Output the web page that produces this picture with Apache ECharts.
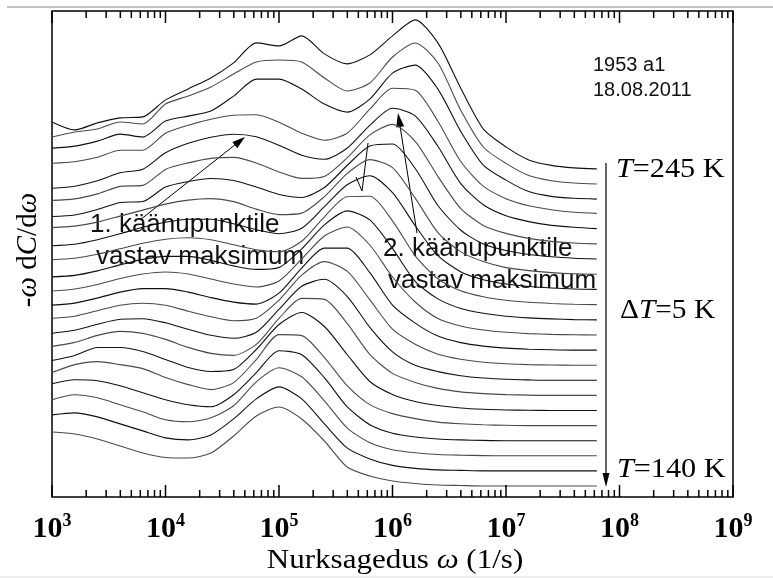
<!DOCTYPE html>
<html>
<head>
<meta charset="utf-8">
<script src="https://cdn.jsdelivr.net/npm/echarts@6.0.0/dist/echarts.min.js"></script>
<style>
  html, body { margin: 0; padding: 0; background: #fff; }
  #chart { width: 773px; height: 578px; }
</style>
</head>
<body>
<div id="chart"></div>
<script>
// log10 of angular frequency for each sample
const logOmega = [3.0, 3.2, 3.4, 3.6, 3.8, 4.0, 4.2, 4.4, 4.6, 4.8, 5.0, 5.2, 5.4, 5.6, 5.8, 6.0, 6.2, 6.4, 6.6, 6.8, 7.0, 7.2, 7.4, 7.6, 7.8];

// temperatures (K), bottom curve first
const temps = [140, 145, 150, 155, 160, 165, 170, 175, 180, 185, 190, 195, 200, 205, 210, 215, 220, 225, 230, 235, 240, 245];

// -w dC/dw (arb. units, each curve above its own baseline)
const dC140 = [54, 52, 47, 40, 33, 28.5, 28, 33, 50, 70, 79, 67, 45, 19, 10, 5, 2.5, 1, 0.5, 0, 0, 0, 0, 0, 0];
const dC145 = [56, 58, 54, 47, 40, 33, 31, 36, 52, 72, 84, 72, 47, 23, 12, 5.5, 2.5, 1, 0.5, 0, 0, 0, 0, 0, 0];
const dC150 = [56, 61, 58, 51, 44, 36, 34, 38, 50, 74, 88, 79, 55, 28, 13, 6, 3, 1.3, 0.6, 0.2, 0, 0, 0, 0, 0];
const dC155 = [57, 61, 60, 55, 48, 41, 36, 34, 46, 68, 90, 86, 63, 34, 16, 7.5, 3.7, 1.7, 0.8, 0.3, 0, 0, 0, 0, 0];
const dC160 = [53, 61, 64, 61, 57, 48, 41, 36, 43, 66, 91, 90, 68, 40, 21, 12, 7, 3.5, 1.8, 0.8, 0.3, 0, 0, 0, 0];
const dC165 = [50, 55, 63, 63, 59, 51, 43, 39, 41, 61, 86, 98, 84, 56, 29, 16, 9, 5, 2.5, 1.2, 0.5, 0.2, 0, 0, 0];
const dC170 = [49, 53, 60, 64, 62, 56, 48, 42, 40, 51, 77, 97, 96, 72, 41, 22, 13, 7, 3.5, 1.8, 0.8, 0.3, 0, 0, 0];
const dC175 = [47, 50, 56, 61, 61.5, 57.5, 51, 45, 42, 48, 71, 94, 101, 84, 53, 28.5, 15, 8.7, 4.6, 2.3, 1, 0.4, 0, 0, 0];
const dC180 = [47, 49, 54.5, 60, 62, 60, 54, 48.5, 44.5, 47, 65, 90, 103.6, 94, 65.5, 36, 21, 11, 6, 3, 1.5, 0.6, 0.2, 0, 0];
const dC185 = [45, 47, 52, 58, 61.5, 61.5, 58, 52.5, 48, 46, 57, 82, 102, 102, 77.5, 45, 27, 14, 7.5, 4, 2, 0.9, 0.3, 0, 0];
const dC190 = [44, 46, 50.5, 56.5, 61, 63, 61, 56, 51, 48, 54, 76, 99, 108, 90, 58, 33, 16.5, 9, 5, 2.7, 1.4, 0.6, 0.2, 0];
const dC195 = [43, 44.5, 49, 55, 60.5, 63.5, 63.5, 59.5, 54, 50.5, 52.5, 71, 95, 109, 100, 71.5, 38.5, 21, 11.5, 6.6, 3.6, 2, 1, 0.3, 0];
const dC200 = [45, 46.5, 50.5, 56, 61.5, 65.5, 67, 65, 60, 55, 53, 63.5, 88, 108, 108.5, 84, 49, 26, 14, 8, 4.5, 2.5, 1.3, 0.5, 0.2];
const dC205 = [44, 45.5, 50, 56, 62.5, 67.5, 70.5, 70.5, 66, 60, 56, 61.5, 83, 105, 114, 97, 64, 34, 18, 10, 5.7, 3.2, 1.7, 0.7, 0.3];
const dC210 = [47, 48.5, 52.5, 58.5, 64.5, 70.5, 74.5, 76, 73, 65.5, 60, 61.5, 78, 101, 115, 107, 76.5, 42, 23, 13, 7, 4, 2, 0.8, 0.3];
const dC215 = [43, 44.5, 50, 57, 58, 72.5, 78, 81, 79, 72.5, 65, 62, 72, 94, 113.5, 115.5, 91, 54, 29.5, 15.5, 9, 5, 2.7, 1.3, 0.5];
const dC220 = [44, 45.5, 50.5, 58, 59, 75, 81.5, 86, 87, 81.5, 72.5, 66, 68, 86.5, 109.5, 120, 103, 68, 36, 19, 11, 6, 3, 1.4, 0.5];
const dC225 = [41, 43, 48.5, 56.5, 60, 76.5, 86, 92, 95, 92.5, 84, 74, 70, 81, 104, 121, 113.5, 83, 46, 24.5, 13.5, 7.7, 3.9, 2, 0.7];
const dC230 = [51, 52.5, 57, 64, 64, 81, 89, 95, 99, 99.5, 92, 81, 74, 81, 105, 126, 124, 93, 53, 28, 15.5, 8.4, 4.5, 2, 0.8];
const dC235 = [51, 53, 58, 65, 62, 78, 83, 88, 103, 120, 120, 110, 95, 87, 100, 126, 134, 110, 68, 34, 19, 7.5, 2.7, 0.8, 0];
const dC240 = [47, 52, 55, 62, 60, 80, 88, 97, 110, 122, 124, 122, 106, 93, 101, 127, 141, 121, 74, 37, 20.6, 8.5, 3.3, 1, 0];
const dC245 = [47, 39, 46, 51, 52, 69, 80, 91, 106, 126, 123, 133, 115, 105, 114, 133, 149, 126, 81, 40, 22, 9, 3.5, 1, 0];

const curves = [dC140, dC145, dC150, dC155, dC160, dC165, dC170, dC175, dC180, dC185, dC190,
                dC195, dC200, dC205, dC210, dC215, dC220, dC225, dC230, dC235, dC240, dC245];

// waterfall offset between neighbouring curves
const BASE = 11;
const STEP = 15.1;

// axis ticks (decade starts + minor multipliers)
const decades = [1e3, 1e4, 1e5, 1e6, 1e7, 1e8];
const minorSteps = [2, 3, 4, 5, 6, 7, 8, 9];

const chart = echarts.init(document.getElementById('chart'), null, { renderer: 'canvas' });

const serif = 'Liberation Serif';
const sans = 'Liberation Sans';

const curveSeries = curves.map((h, i) => ({
    type: 'line',
    name: 'T=' + temps[i] + ' K',
    symbol: 'none',
    smooth: 0.25,
    silent: true,
    lineStyle: { width: 1.1, color: i % 2 ? '#111' : '#4a4a4a' },
    data: logOmega.map((lw, k) => [Math.pow(10, lw), h[k] + BASE + STEP * i])
}));

const tickData = [];
decades.forEach(d => {
    tickData.push([d, 1]);
    minorSteps.forEach(m => tickData.push([d * m, 0]));
});
tickData.push([1e9, 1]);

const tickSeries = {
    type: 'custom',
    silent: true,
    clip: false,
    z: 5,
    data: tickData,
    encode: { x: 0, y: 1 },
    renderItem: (params, api) => {
        const cs = params.coordSys;
        const x = api.coord([api.value(0), 0])[0];
        const len = api.value(1) ? 12 : 7;
        const yb = cs.y + cs.height;
        return {
            type: 'group',
            children: [
                { type: 'line', shape: { x1: x, y1: yb, x2: x, y2: yb - len }, style: { stroke: '#000', lineWidth: 1.5 } },
                { type: 'line', shape: { x1: x, y1: cs.y, x2: x, y2: cs.y + len }, style: { stroke: '#000', lineWidth: 1.5 } }
            ]
        };
    }
};

// arrowhead helper: tip point + direction it points to
function arrowHead(tx, ty, fromX, fromY, len, half) {
    const dx = tx - fromX, dy = ty - fromY;
    const d = Math.sqrt(dx * dx + dy * dy);
    const ux = dx / d, uy = dy / d;
    const bx = tx - ux * len, by = ty - uy * len;
    return {
        type: 'polygon',
        shape: { points: [[tx, ty], [bx - uy * half, by + ux * half], [bx + uy * half, by - ux * half]] },
        style: { fill: '#000' }
    };
}

const italic = { fontFamily: serif, fontStyle: 'italic', fontSize: 28, fill: '#000' };
const upright = { fontFamily: serif, fontSize: 28, fill: '#000' };

const graphics = [
    // page rules
    { type: 'line', shape: { x1: 7, y1: 7, x2: 773, y2: 7 }, style: { stroke: '#8a8a8a', lineWidth: 1 } },
    { type: 'line', shape: { x1: 0, y1: 577, x2: 773, y2: 577 }, style: { stroke: '#dcdcdc', lineWidth: 1 } },
    // y title
    {
        type: 'text', x: 28, y: 250, rotation: Math.PI / 2,
        style: {
            text: '{u|-}{i|ω}{u| d}{i|C}{u|/d}{i|ω}',
            align: 'center', verticalAlign: 'middle',
            rich: { u: Object.assign({}, upright, { fontSize: 29 }), i: Object.assign({}, italic, { fontSize: 29 }) }
        }
    },
    // x title
    {
        type: 'text', x: 395, y: 561, scaleX: 1.15,
        style: {
            text: '{u|Nurksagedus }{i|ω}{u| (1/s)}',
            align: 'center', verticalAlign: 'middle',
            rich: { u: Object.assign({}, upright, { fontSize: 27 }), i: Object.assign({}, italic, { fontSize: 27 }) }
        }
    },
    // sample id
    { type: 'text', x: 593, y: 65, style: { text: '1953 a1', fontFamily: sans, fontSize: 20, fill: '#111', align: 'left', verticalAlign: 'middle' } },
    { type: 'text', x: 593, y: 90, style: { text: '18.08.2011', fontFamily: sans, fontSize: 20, fill: '#111', align: 'left', verticalAlign: 'middle' } },
    // temperature labels
    { type: 'text', x: 616, y: 170, scaleX: 1.08, style: { text: '{i|T}{u|=245 K}', align: 'left', verticalAlign: 'middle', rich: { u: upright, i: italic } } },
    { type: 'text', x: 620, y: 311, scaleX: 1.05, style: { text: '{u|Δ}{i|T}{u|=5 K}', align: 'left', verticalAlign: 'middle', rich: { u: upright, i: italic } } },
    { type: 'text', x: 617, y: 470, scaleX: 1.08, style: { text: '{i|T}{u|=140 K}', align: 'left', verticalAlign: 'middle', rich: { u: upright, i: italic } } },
    // vertical temperature arrow
    { type: 'line', shape: { x1: 606, y1: 163, x2: 606, y2: 476 }, style: { stroke: '#000', lineWidth: 1.2 } },
    arrowHead(606, 487, 606, 163, 14, 3.5),
    // annotation 1
    { type: 'text', x: 90, y: 225, style: { text: '1. käänupunktile', fontFamily: sans, fontSize: 26, fill: '#111', align: 'left', verticalAlign: 'middle' } },
    { type: 'text', x: 96, y: 257, style: { text: 'vastav maksimum', fontFamily: sans, fontSize: 26, fill: '#111', align: 'left', verticalAlign: 'middle' } },
    { type: 'line', shape: { x1: 140, y1: 220, x2: 236, y2: 144 }, style: { stroke: '#000', lineWidth: 1 } },
    arrowHead(245, 137, 140, 220, 13, 4),
    // annotation 2
    { type: 'text', x: 383, y: 249, style: { text: '2. käänupunktile', fontFamily: sans, fontSize: 26, fill: '#111', align: 'left', verticalAlign: 'middle' } },
    { type: 'text', x: 388, y: 281, style: { text: 'vastav maksimum', fontFamily: sans, fontSize: 26, fill: '#111', align: 'left', verticalAlign: 'middle' } },
    { type: 'line', shape: { x1: 417, y1: 233, x2: 400, y2: 126 }, style: { stroke: '#000', lineWidth: 1 } },
    arrowHead(398, 113, 417, 233, 14, 4),
    { type: 'polyline', shape: { points: [[356, 177], [362, 191], [368, 143]] }, style: { stroke: '#000', lineWidth: 1, fill: null } }
];

chart.setOption({
    animation: false,
    backgroundColor: '#fff',
    grid: { left: 52, right: 40, top: 11, bottom: 81, show: true, borderColor: '#000', borderWidth: 1.5, backgroundColor: 'transparent' },
    xAxis: {
        type: 'log', logBase: 10, min: 1e3, max: 1e9, splitNumber: 6,
        axisLine: { show: false },
        axisTick: { show: false },
        splitLine: { show: false },
        axisLabel: {
            margin: 15,
            formatter: v => '{b|10}{e|' + Math.round(Math.log10(v)) + '}',
            rich: {
                b: { fontFamily: serif, fontWeight: 'bold', fontSize: 30, color: '#000' },
                e: { fontFamily: serif, fontWeight: 'bold', fontSize: 18, color: '#000', verticalAlign: 'bottom', padding: [0, 0, 16, 0] }
            }
        }
    },
    yAxis: {
        type: 'value', min: 0, max: 486,
        axisLine: { show: false }, axisTick: { show: false }, axisLabel: { show: false }, splitLine: { show: false }
    },
    series: curveSeries.concat([tickSeries]),
    graphic: graphics
});
</script>
</body>
</html>
